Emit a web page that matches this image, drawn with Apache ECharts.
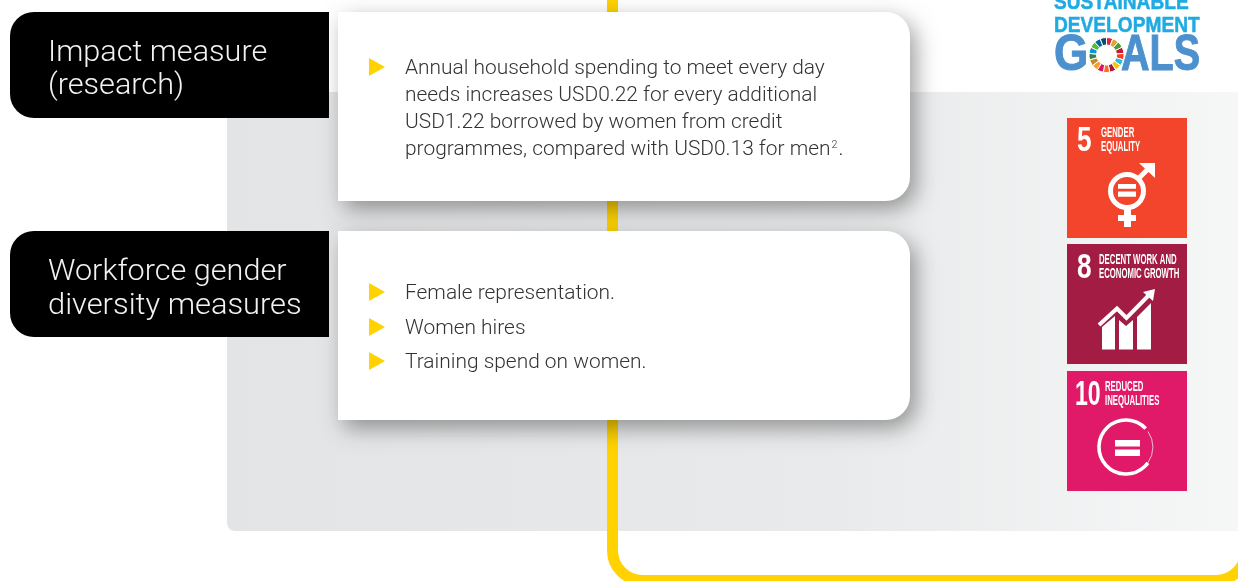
<!DOCTYPE html>
<html>
<head>
<meta charset="utf-8">
<style>html,body{margin:0;padding:0;background:#fff}#main{width:1238px;height:581px}</style>
<script src="https://cdn.jsdelivr.net/npm/echarts@6/dist/echarts.min.js"></script>
</head>
<body>
<div id="main"></div>
<script>
// labels
var heading1 = ['Impact measure', '(research)']
var heading2 = ['Workforce gender', 'diversity measures']
var impactLines = [
  'Annual household spending to meet every day',
  'needs increases USD0.22 for every additional',
  'USD1.22 borrowed by women from credit'
]
var impactLast = 'programmes, compared with USD0.13 for men'
var diversityItems = ['Female representation.', 'Women hires', 'Training spend on women.']
var goal5 = ['5', 'GENDER', 'EQUALITY']
var goal8 = ['8', 'DECENT WORK AND', 'ECONOMIC GROWTH']
var goal10 = ['10', 'REDUCED', 'INEQUALITIES']
var logoLines = ['SUSTAINABLE', 'DEVELOPMENT']
// the 17 goals colours, clockwise from the top of the wheel
var wheelColors = ['#e5243b', '#dda63a', '#4c9f38', '#c5192d', '#ff3a21', '#26bde2', '#fcc30b', '#a21942', '#fd6925',
  '#dd1367', '#fd9d24', '#bf8b2e', '#3f7e44', '#0a97d9', '#56c02b', '#00689d', '#19486a']

var YELLOW = '#ffd200'
var BODY_FONT = 'Roboto'
var TILE_FONT = 'Liberation Sans'
var els = []
var pathCount = 0

function txt(x, y, s, size, color, opt) {
  opt = opt || {}
  var style = {
    text: s, fill: color, fontFamily: opt.font || BODY_FONT, fontSize: size, fontWeight: opt.weight || 300,
    align: 'left', verticalAlign: 'middle'
  }
  // thicken the bold logo letters a little
  if (opt.heavy) {
    style.stroke = color
    style.lineWidth = opt.heavy
  }
  els.push({ type: 'text', x: x, y: y, scaleX: opt.sx || 1, z: opt.z || 20, style: style })
}
function box(x, y, w, h, r, fill, z, extra) {
  var style = { fill: fill }
  for (var k in extra) style[k] = extra[k]
  els.push({ type: 'rect', z: z, shape: { x: x, y: y, width: w, height: h, r: r }, style: style })
}
// graphic has no 'path' type, so every svg path gets registered as a shape
function shape(d, style, z) {
  var name = 'sdgPath' + (pathCount++)
  echarts.graphic.registerShape(name, echarts.graphic.extendPath(d, {}))
  els.push({ type: name, z: z || 21, style: style })
}
function bullet(y) {
  els.push({ type: 'polygon', z: 20, shape: { points: [[369, y - 9], [385, y], [369, y + 9]] }, style: { fill: YELLOW } })
}
function tileText(g, numX, numSx, textX, sx, y) {
  txt(numX, y + 1, g[0], 35, '#fff', { weight: 700, font: TILE_FONT, sx: numSx })
  txt(textX, y - 7, g[1], 14, '#fff', { weight: 700, font: TILE_FONT, sx: sx })
  txt(textX, y + 7, g[2], 14, '#fff', { weight: 700, font: TILE_FONT, sx: sx })
}

// grey panel + yellow line
box(227, 92, 1020, 439, [0, 0, 0, 8], {
  type: 'linear', x: 0, y: 0, x2: 1, y2: 0,
  colorStops: [{ offset: 0, color: '#e3e4e6' }, { offset: 0.6, color: '#e9eaeb' }, { offset: 1, color: '#f6f7f7' }]
}, 1)
shape('M612.5 -10 V550.5 A30 30 0 0 0 642.5 580.5 H1216 A30 30 0 0 0 1246 550.5', { fill: 'none', stroke: YELLOW, lineWidth: 11 }, 2)

// cards
var cardShadow = { shadowBlur: 22, shadowOffsetX: 6, shadowOffsetY: 8, shadowColor: 'rgba(0,0,0,0.38)' }
box(338, 12, 572, 189, [0, 24, 24, 0], '#fff', 5, cardShadow)
box(338, 231, 572, 189, [0, 24, 24, 0], '#fff', 5, cardShadow)
box(10, 12, 319, 106, [24, 0, 0, 24], '#000', 6)
box(10, 231, 319, 106, [24, 0, 0, 24], '#000', 6)

var headOpt = { sx: 1.055 }
txt(48, 53.5, heading1[0], 29, '#f2f2f2', headOpt)
txt(48, 86.5, heading1[1], 29, '#f2f2f2', headOpt)
txt(48, 272.5, heading2[0], 29, '#f2f2f2', headOpt)
txt(48, 306.5, heading2[1], 29, '#f2f2f2', { sx: 1.063 })

var bodyOpt = { sx: 1.072 }
bullet(67)
impactLines.forEach(function (l, i) { txt(405, 69 + i * 27, l, 19.5, '#333', bodyOpt) })
els.push({
  type: 'text', x: 405, y: 150, z: 20, scaleX: bodyOpt.sx,
  style: {
    text: '{a|' + impactLast + '}{s|2}{a|.}', align: 'left', verticalAlign: 'middle',
    rich: {
      a: { fontFamily: BODY_FONT, fontWeight: 300, fontSize: 19.5, fill: '#333', color: '#333' },
      s: { fontFamily: BODY_FONT, fontWeight: 300, fontSize: 10, fill: '#333', color: '#333', verticalAlign: 'top', padding: [0, 1, 8, 1] }
    }
  }
})
diversityItems.forEach(function (l, i) {
  var y = [292, 327, 361][i]
  bullet(y)
  txt(405, y + 2, l, 19.5, '#333', bodyOpt)
})

// goal tiles
box(1067, 118, 120, 120, 0, '#f2452c', 10)
box(1067, 244, 120, 120, 0, '#a21c43', 10)
box(1067, 371, 120, 120, 0, '#e01a68', 10)
tileText(goal5, 1077, 0.75, 1101, 0.555, 140)
tileText(goal8, 1077, 0.75, 1099, 0.555, 267)
tileText(goal10, 1075, 0.66, 1105, 0.555, 394)

// gender icon
var W = { stroke: '#fff', fill: 'none', lineWidth: 5 }
shape('M1143.5 191 A16.5 16.5 0 1 1 1110.5 191 A16.5 16.5 0 1 1 1143.5 191 Z', W)
shape('M1139 178 L1152 165', W)
shape('M1139 163 H1155 V178 Z', { fill: '#fff' })
shape('M1118 184 H1136 V188.7 H1118 Z M1118 191.6 H1136 V196.7 H1118 Z M1124 208 H1131 V215 H1136 V221 H1131 V227 H1124 V221 H1118 V215 H1124 Z', { fill: '#fff' })
// growth icon
shape('M1102 349.5 V327 L1115 316 V349.5 Z M1119 349.5 V320 L1126 326 L1133 320 V349.5 Z M1137 349.5 V317 L1151 303 V349.5 Z', { fill: '#fff' })
shape('M1099 325 L1117 308.5 L1126.5 318 L1150 294', { stroke: '#fff', fill: 'none', lineWidth: 4 })
shape('M1155 289 L1143 292 L1153 301 Z', { fill: '#fff' })
// inequality icon
shape('M1145.7 428.6 A27 27 0 1 0 1147.8 462.9', { stroke: '#fff', fill: 'none', lineWidth: 3.6 })
shape('M1147.8 462.9 A27 27 0 0 0 1148 431.5', { stroke: '#fff', fill: 'none', lineWidth: 0.7 })
shape('M1115 440 H1140 V446.5 H1115 Z M1115 449.5 H1140 V456 H1115 Z', { fill: '#fff' })

// logo
var logoOpt = { weight: 700, font: TILE_FONT, sx: 0.87, heavy: 0.5 }
txt(1054, 3, logoLines[0], 22, '#1faae2', logoOpt)
txt(1054, 26, logoLines[1], 22, '#1faae2', logoOpt)
txt(1054, 56, 'G', 50, '#4c90cd', { weight: 700, font: TILE_FONT, sx: 0.88, heavy: 1 })
txt(1121, 56, 'ALS', 50, '#4c90cd', { weight: 700, font: TILE_FONT, sx: 0.79, heavy: 1 })

var chart = echarts.init(document.getElementById('main'), null, { renderer: 'canvas' })
chart.setOption({
  animation: false,
  backgroundColor: '#fff',
  graphic: { elements: els },
  series: [{
    type: 'pie',
    silent: true,
    z: 30,
    center: [1106.5, 55],
    radius: [10, 17.5],
    label: { show: false },
    labelLine: { show: false },
    itemStyle: { borderColor: '#fff', borderWidth: 1 },
    data: wheelColors.map(function (c) { return { value: 1, itemStyle: { color: c } } })
  }]
})
</script>
</body>
</html>
